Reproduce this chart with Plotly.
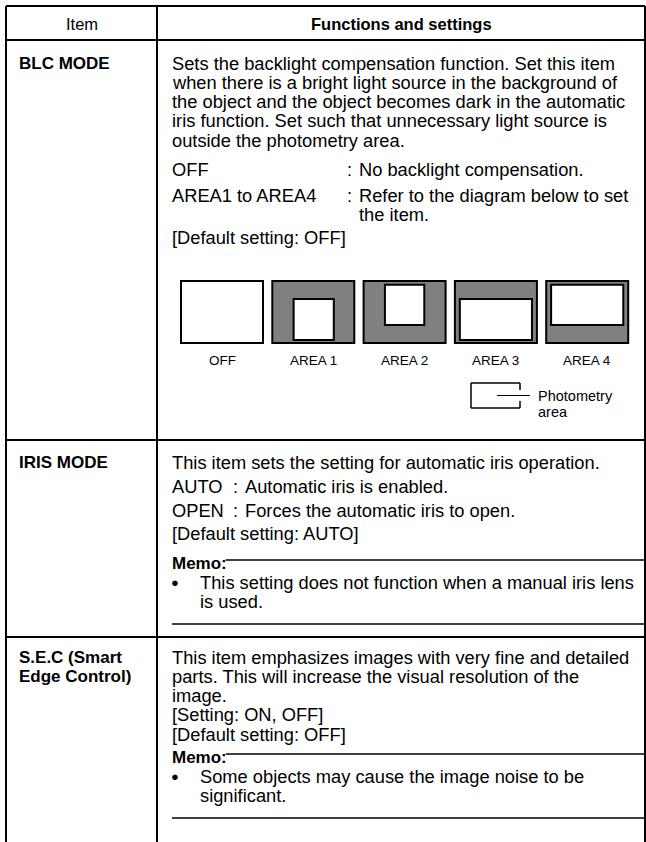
import plotly.graph_objects as go

W, H = 646, 842

# ---------------- content ----------------
header_labels = ["Item", "Functions and settings"]
item_labels = [["BLC MODE"], ["IRIS MODE"], ["S.E.C (Smart", "Edge Control)"]]

blc_text = [
    "Sets the backlight compensation function. Set this item",
    "when there is a bright light source in the background of",
    "the object and the object becomes dark in the automatic",
    "iris function. Set such that unnecessary light source is",
    "outside the photometry area.",
]
blc_option_names = ["OFF", "AREA1 to AREA4"]
blc_option_texts = [["No backlight compensation."],
                    ["Refer to the diagram below to set", "the item."]]
blc_default = "[Default setting: OFF]"

area_labels = ["OFF", "AREA 1", "AREA 2", "AREA 3", "AREA 4"]
# photometry window inside each frame: (left, right, top, bottom) as fractions of the frame
area_windows = [None,
                (0.26, 0.75, 0.29, 0.95),
                (0.26, 0.74, 0.06, 0.71),
                (0.06, 0.94, 0.29, 0.95),
                (0.06, 0.94, 0.06, 0.71)]
legend_label = ["Photometry", "area"]

iris_text = ["This item sets the setting for automatic iris operation."]
iris_option_names = ["AUTO", "OPEN"]
iris_option_texts = ["Automatic iris is enabled.", "Forces the automatic iris to open."]
iris_default = "[Default setting: AUTO]"
iris_memo = ["This setting does not function when a manual iris lens", "is used."]

sec_text = [
    "This item emphasizes images with very fine and detailed",
    "parts. This will increase the visual resolution of the",
    "image.",
    "[Setting: ON, OFF]",
    "[Default setting: OFF]",
]
sec_memo = ["Some objects may cause the image noise to be", "significant."]
memo_title = "Memo:"

# ---------------- geometry / style ----------------
FONT = "Liberation Sans, Arial, Helvetica, sans-serif"
FS = 18.3
FS_ITEM = 17
FS_HEAD = 16.5
FS_SMALL = 13.5
X_L, X_DIV, X_R = 6, 157, 645
Y_TOP, Y_HEAD, Y_R1, Y_R2 = 6, 40, 440, 637
TX, IX = 170, 17
LS = 19.3
BW = 2

fig = go.Figure()
shapes = []
ann = []


def line(x0, y0, x1, y1, w=BW):
    shapes.append(dict(type="line", xref="x", yref="y", x0=x0, y0=y0, x1=x1, y1=y1,
                       line=dict(color="black", width=w)))


def rect(x0, y0, x1, y1, fill, w=BW):
    shapes.append(dict(type="rect", xref="x", yref="y", x0=x0, y0=y0, x1=x1, y1=y1,
                       fillcolor=fill, line=dict(color="black", width=w)))


def text(x, y, s, size=FS, bold=False, anchor="left"):
    ann.append(dict(x=x, y=y, xref="x", yref="y", text=("<b>%s</b>" % s) if bold else s,
                    showarrow=False, xanchor=anchor, yanchor="middle",
                    font=dict(family=FONT, size=size, color="black")))


# table grid
line(X_L, Y_TOP, X_R, Y_TOP)
line(X_L, Y_HEAD, X_R, Y_HEAD)
line(X_L, Y_R1, X_R, Y_R1)
line(X_L, Y_R2, X_R, Y_R2)
line(X_L, Y_TOP, X_L, H)
line(X_DIV, Y_TOP, X_DIV, H)
line(X_R, Y_TOP, X_R, H)

# header
text((X_L + X_DIV) / 2, (Y_TOP + Y_HEAD) / 2 + 1, header_labels[0], size=FS_HEAD, anchor="center")
text((X_DIV + X_R) / 2, (Y_TOP + Y_HEAD) / 2 + 1, header_labels[1], size=FS_HEAD, bold=True,
     anchor="center")

# item column
row_tops = [63, 462, 657]
for lines_, y0 in zip(item_labels, row_tops):
    for i, s in enumerate(lines_):
        text(IX, y0 + i * LS, s, size=FS_ITEM, bold=True)

# ---- BLC row ----
y = 63
for s in blc_text:
    text(TX, y, s)
    y += LS
COLON_X = 345
for name, parts, yy in zip(blc_option_names, blc_option_texts, [169, 195]):
    text(TX, yy, name)
    text(COLON_X, yy, ":")
    for j, p in enumerate(parts):
        text(COLON_X + 12, yy + j * 19, p)
text(TX, 237, blc_default)

# diagram frames
FX0, FW, PITCH = 181, 82, 91.3
FY0, FY1 = 281, 343
for k, (lab, win) in enumerate(zip(area_labels, area_windows)):
    x0 = FX0 + k * PITCH
    x1 = x0 + FW
    rect(x0, FY0, x1, FY1, "white" if win is None else "#808080")
    if win is not None:
        l, r, t, b = win
        rect(x0 + l * FW, FY0 + t * (FY1 - FY0), x0 + r * FW, FY0 + b * (FY1 - FY0), "white")
    text((x0 + x1) / 2, 360, lab, size=FS_SMALL, anchor="center")

# photometry legend
LX0, LX1, LY0, LY1 = 471, 520, 383, 408
line(LX0, LY0, LX1, LY0, 1.5)
line(LX0, LY1, LX1, LY1, 1.5)
line(LX0, LY0, LX0, LY1, 1.5)
line(LX1, LY0, LX1, LY0 + 7, 1.5)
line(LX1, LY1 - 7, LX1, LY1, 1.5)
line(497, (LY0 + LY1) / 2, 530, (LY0 + LY1) / 2, 1)
text(536, 396, legend_label[0], size=FS_SMALL + 1)
text(536, 412, legend_label[1], size=FS_SMALL + 1)

# ---- IRIS row ----
text(TX, 462, iris_text[0])
COLON2 = 231
for n, t, yy in zip(iris_option_names, iris_option_texts, [486, 510]):
    text(TX, yy, n)
    text(COLON2, yy, ":")
    text(COLON2 + 12, yy, t)
text(TX, 533, iris_default)


def memo(y_title, bullets, y_under):
    text(TX, y_title, memo_title, size=FS_ITEM, bold=True)
    mx = TX + 3.22 * FS_ITEM + 1
    line(mx, y_title - 3, X_R, y_title - 3, 1.5)
    text(TX + 5, y_title + LS, "\u25cf", size=13, anchor="center")
    for i, s in enumerate(bullets):
        text(TX + 28, y_title + LS + i * LS, s)
    line(TX + 2, y_under, X_R, y_under, 1.5)


memo(563, iris_memo, 624)

# ---- S.E.C row ----
y = 657
for s in sec_text:
    text(TX, y, s)
    y += LS
memo(757, sec_memo, 818)

fig.update_layout(
    width=W, height=H, margin=dict(l=0, r=0, t=0, b=0),
    paper_bgcolor="white", plot_bgcolor="white",
    xaxis=dict(range=[0, W], visible=False, fixedrange=True),
    yaxis=dict(range=[H, 0], visible=False, fixedrange=True),
    shapes=shapes, annotations=ann, showlegend=False,
)
fig.write_html(
    "out.html",
    config={"displayModeBar": False, "staticPlot": True},
    post_script="document.body.style.margin='0';document.body.style.padding='0';"
                "document.body.style.overflow='hidden';",
)
